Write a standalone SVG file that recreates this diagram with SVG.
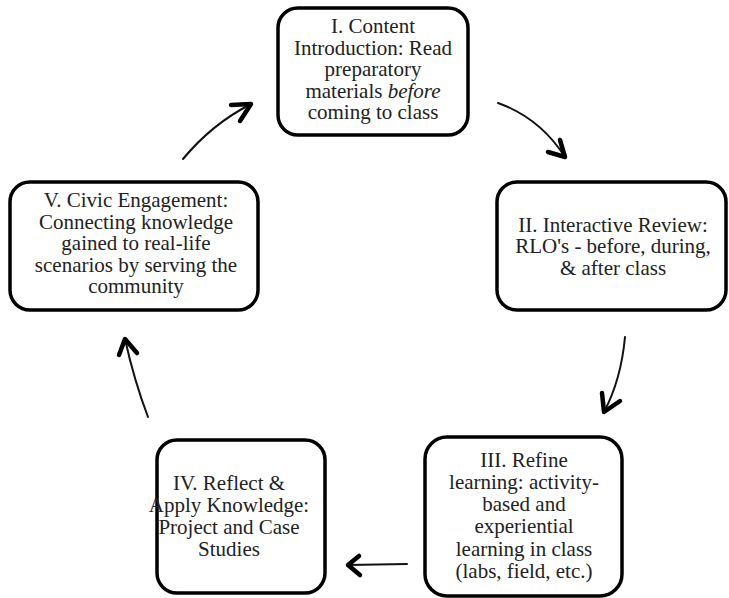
<svg xmlns="http://www.w3.org/2000/svg" width="729" height="598" viewBox="0 0 729 598">
<style>
.box{fill:#fff;stroke:#000;stroke-width:3.5}
.t{font-family:"Liberation Serif","Times New Roman",serif;font-size:21px;fill:#222;text-anchor:middle}
.ln{fill:none;stroke:#111;stroke-width:2;stroke-linecap:round}
.hd{fill:none;stroke:#000;stroke-width:4.5;stroke-linecap:round;stroke-linejoin:round}
</style>
<rect width="729" height="598" fill="#fff"/>
<g id="node1">
<rect class="box" x="278" y="8" width="190" height="127" rx="20"/>
<text class="t" x="373" y="33">I. Content</text>
<text class="t" x="373" y="55">Introduction: Read</text>
<text class="t" x="373" y="76">preparatory</text>
<text class="t" x="373" y="98">materials <tspan font-style="italic">before</tspan></text>
<text class="t" x="373" y="119">coming to class</text>
</g>
<g id="node2">
<rect class="box" x="497" y="182" width="229" height="128" rx="20"/>
<text class="t" x="613" y="232">II. Interactive Review:</text>
<text class="t" x="613" y="253">RLO's - before, during,</text>
<text class="t" x="613" y="275">&amp; after class</text>
</g>
<g id="node3">
<rect class="box" x="425" y="437" width="197" height="159" rx="22"/>
<text class="t" x="524" y="467">III. Refine</text>
<text class="t" x="524" y="489">learning: activity-</text>
<text class="t" x="524" y="511">based and</text>
<text class="t" x="524" y="533">experiential</text>
<text class="t" x="524" y="556">learning in class</text>
<text class="t" x="524" y="578">(labs, field, etc.)</text>
</g>
<g id="node4">
<rect class="box" x="157" y="440" width="168" height="153" rx="20"/>
<text class="t" x="229" y="490">IV. Reflect &amp;</text>
<text class="t" x="229" y="512">Apply Knowledge:</text>
<text class="t" x="229" y="534">Project and Case</text>
<text class="t" x="229" y="556">Studies</text>
</g>
<g id="node5">
<rect class="box" x="10" y="182" width="248" height="128" rx="20"/>
<text class="t" x="136" y="207">V. Civic Engagement:</text>
<text class="t" x="136" y="229">Connecting knowledge</text>
<text class="t" x="136" y="250">gained to real-life</text>
<text class="t" x="136" y="272">scenarios by serving the</text>
<text class="t" x="136" y="293">community</text>
</g>
<g id="connectors">
<path class="ln" d="M183,159 Q212,124 251,104"/>
<path class="hd" d="M231,105 L251,104 L240,121"/>
<path class="ln" d="M498,103 Q540,118 565,157"/>
<path class="hd" d="M560,140 L565,157 L548,152"/>
<path class="ln" d="M625,337 Q621,380 604,412"/>
<path class="hd" d="M602,393 L604,412 L620,401"/>
<path class="ln" d="M407,564 L348,565"/>
<path class="hd" d="M359,556 L348,565 L360,575"/>
<path class="ln" d="M148,417 Q134,380 125,339"/>
<path class="hd" d="M119,355 L125,339 L137,353"/>
</g>
</svg>
